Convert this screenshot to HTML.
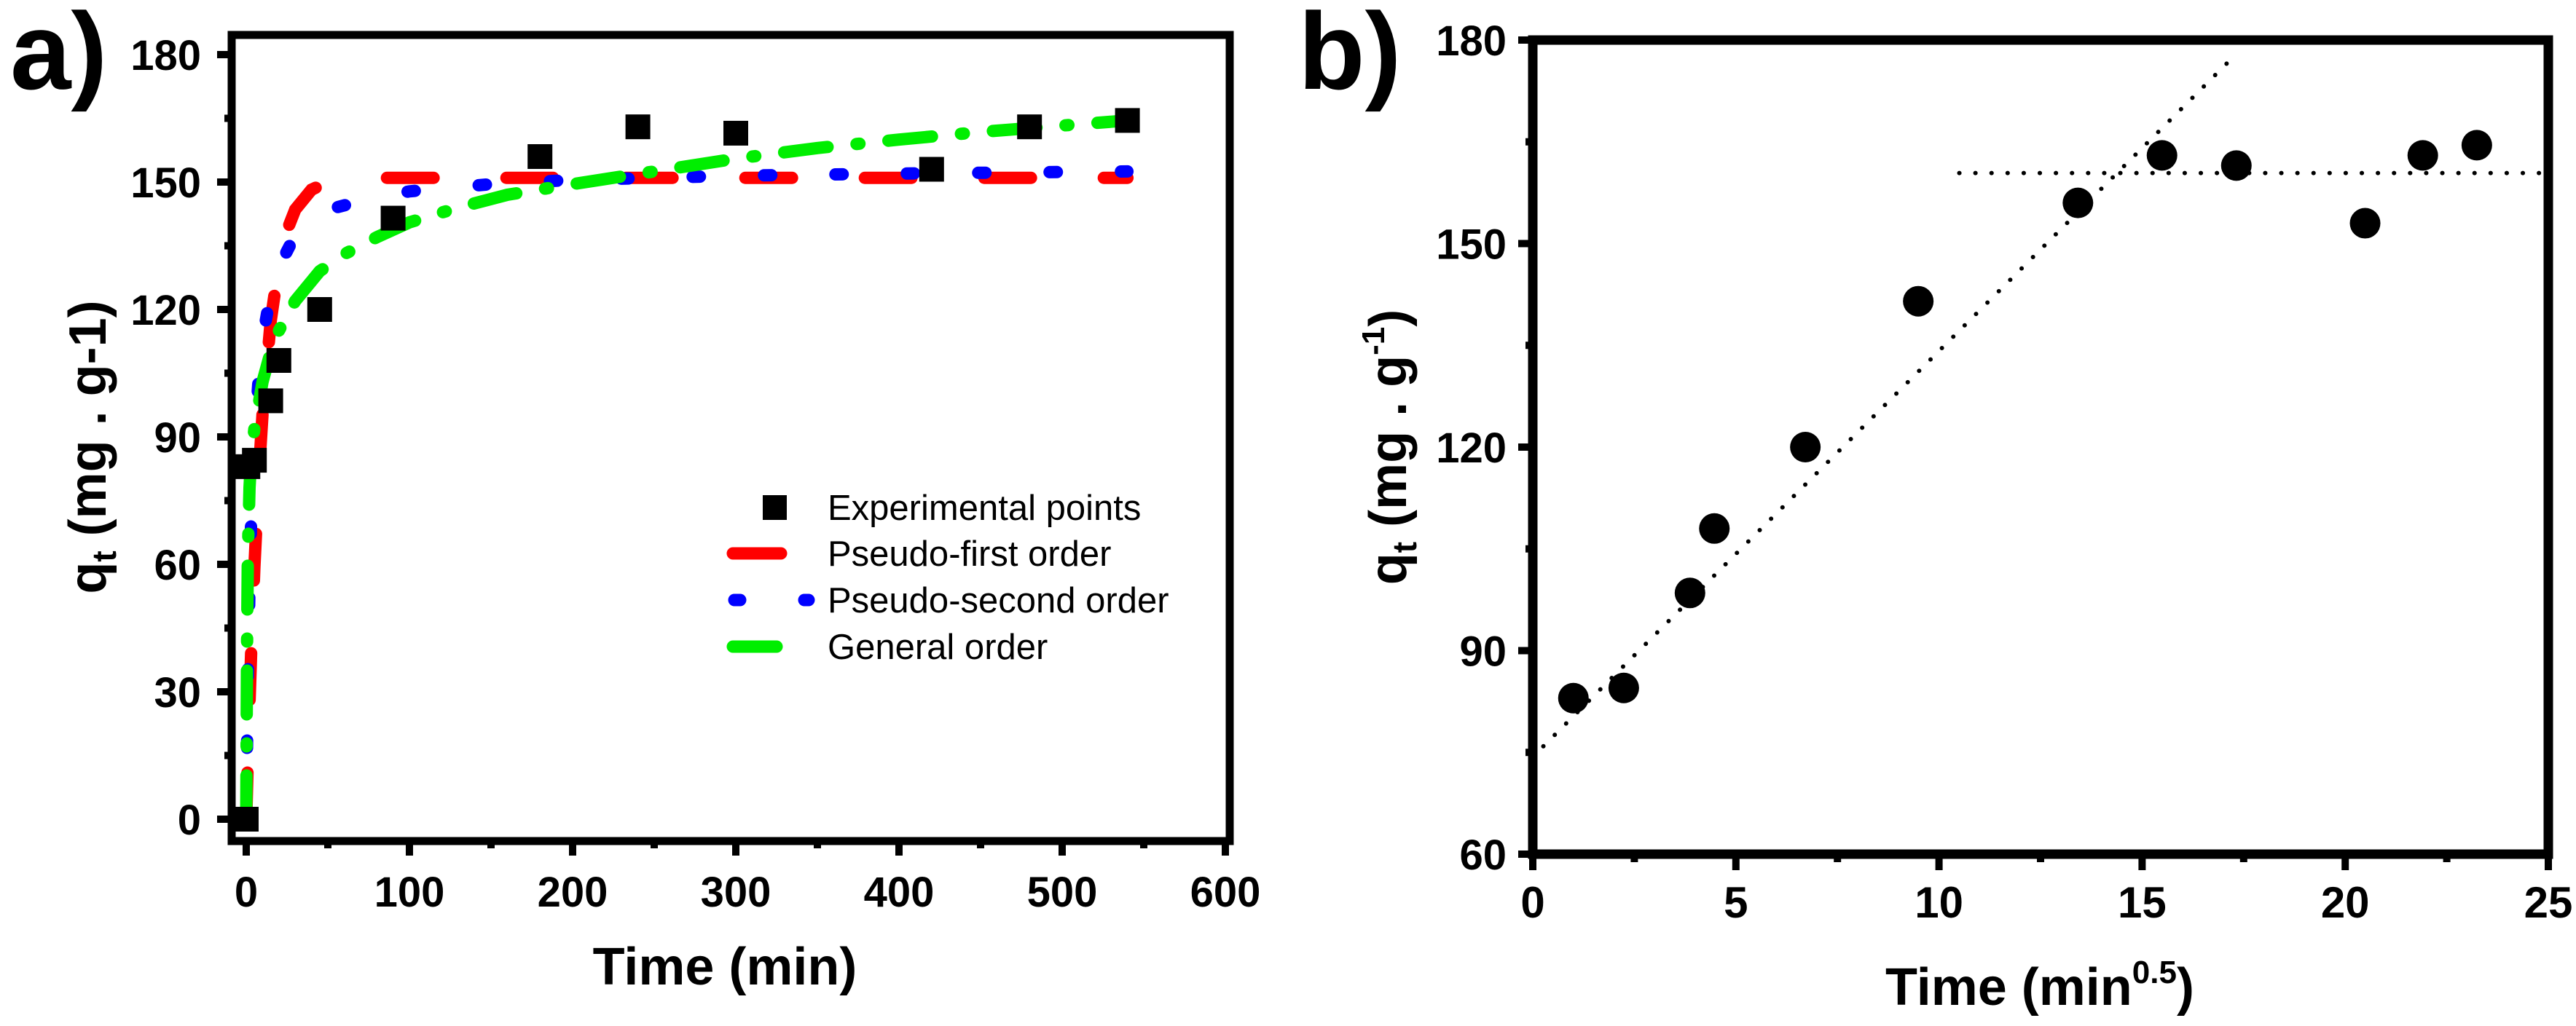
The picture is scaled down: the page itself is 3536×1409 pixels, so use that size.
<!DOCTYPE html>
<html><head><meta charset="utf-8"><style>
html,body{margin:0;padding:0;background:#fff}
svg{display:block}
text{font-family:"Liberation Sans",Arial,sans-serif;fill:#000}
</style></head><body>
<svg id="fig" width="3536" height="1409" viewBox="0 0 3536 1409" xmlns="http://www.w3.org/2000/svg">
<text x="14" y="122" font-size="150" font-weight="bold">a)</text>
<text x="1782" y="122" font-size="150" font-weight="bold">b)</text>
<g id="pa"></g>
<g id="pb"></g>
</svg>
<script>
// Panel a data
const expTime = [0, 1, 5, 15, 20, 45, 90, 180, 240, 300, 420, 480, 540];
const expQ = [0, 83, 84.5, 98.5, 108, 120, 141.5, 156, 163, 161.5, 153, 163, 164.5];
const pfoTime = [0, 1, 2, 3, 5, 8, 10, 15, 20, 25, 30, 40, 50, 70, 100, 200, 300, 400, 540];
const pfoQ = [0, 14.4, 27.4, 39, 59.4, 83, 95.5, 117.3, 130.6, 138.6, 143.5, 148.2, 150, 151, 151, 151, 151, 151, 151];
const psoTime = [0, 1, 2, 3, 5, 8, 10, 15, 20, 30, 50, 80, 100, 150, 200, 300, 400, 540];
const psoQ = [0, 34, 55, 70, 89, 106, 113, 124, 130, 137.5, 143.5, 146.5, 147.8, 149.5, 150.5, 151.5, 152, 152.5];
const genTime = [0, 0.5, 1, 2, 3, 5, 10, 15, 20, 30, 45, 60, 80, 100, 130, 160, 200, 250, 300, 350, 400, 450, 500, 540];
const genQ = [0, 40, 62, 78, 85, 92, 103, 110, 115, 122, 129, 133, 137, 140.5, 144, 147, 149.5, 152.5, 155.5, 158, 160, 161.8, 163.3, 164.5];
const aXTicks = [0, 100, 200, 300, 400, 500, 600];
const aYTicks = [0, 30, 60, 90, 120, 150, 180];
// Panel b data
const sqrtTime = [1, 2.24, 3.87, 4.47, 6.71, 9.49, 13.42, 15.49, 17.32, 20.49, 21.91, 23.24];
const sqrtQ = [83, 84.5, 98.5, 108, 120, 141.5, 156, 163, 161.5, 153, 163, 164.5];
const fitLineX = [0.26, 17.26];
const fitLineY = [75.9, 177.6];
const plateauX = [10.5, 24.8];
const plateauY = [160.4, 160.4];
const bXTicks = [0, 5, 10, 15, 20, 25];
const bYTicks = [60, 90, 120, 150, 180];

const NS = "http://www.w3.org/2000/svg";
function mk(parent, tag, attrs, txt) {
  const e = document.createElementNS(NS, tag);
  for (const k in attrs) e.setAttribute(k, attrs[k]);
  if (txt !== undefined) e.textContent = txt;
  parent.appendChild(e);
  return e;
}
function lin(d0, d1, p0, p1) { return v => p0 + (v - d0) * (p1 - p0) / (d1 - d0); }

// ---------- Panel A ----------
const pa = document.getElementById('pa');
const ax = lin(0, 600, 338, 1682);
const ay = lin(0, 180, 1125, 75);
const A = {l: 318, r: 1688, t: 48, b: 1155};
function polyPts(xs, ys, fx, fy) { return xs.map((v, i) => fx(v).toFixed(1) + ',' + fy(ys[i]).toFixed(1)).join(' '); }
let e;
e = mk(pa, 'polyline', {points: polyPts(pfoTime, pfoQ, ax, ay), fill: 'none', stroke: '#ff0000', 'stroke-width': 17, 'stroke-linecap': 'round', 'stroke-dasharray': '64 100'});


e = mk(pa, 'polyline', {points: polyPts(psoTime, psoQ, ax, ay), fill: 'none', stroke: '#0000ff', 'stroke-width': 17, 'stroke-linecap': 'round', 'stroke-dasharray': '10 88'});


e = mk(pa, 'polyline', {points: polyPts(genTime, genQ, ax, ay), fill: 'none', stroke: '#00ee00', 'stroke-width': 17, 'stroke-linecap': 'round', 'stroke-dasharray': '60 40 4 40'});


expTime.forEach((t, i) => {
  const r = mk(pa, 'rect', {x: ax(t) - 17, y: ay(expQ[i]) - 17, width: 34, height: 34, fill: '#000'});
  
  
});
e = mk(pa, 'rect', {x: A.l, y: A.t, width: A.r - A.l, height: A.b - A.t, fill: 'none', stroke: '#000', 'stroke-width': 11});


aYTicks.forEach((v, i) => {
  const y = ay(v);
  e = mk(pa, 'line', {x1: A.l - 20, x2: A.l, y1: y, y2: y, stroke: '#000', 'stroke-width': 10});
  
  
  if (i < aYTicks.length - 1) {
    const ym = ay(v + 15);
    e = mk(pa, 'line', {x1: A.l - 10, x2: A.l, y1: ym, y2: ym, stroke: '#000', 'stroke-width': 10});
    
    
  }
  e = mk(pa, 'text', {x: 276, y: y + 21, 'font-size': 58, 'font-weight': 'bold', 'text-anchor': 'end'}, String(v));
  
  
});
aXTicks.forEach((v, i) => {
  const x = ax(v);
  e = mk(pa, 'line', {x1: x, x2: x, y1: A.b, y2: A.b + 20, stroke: '#000', 'stroke-width': 10});
  
  
  if (i < aXTicks.length - 1) {
    const xm = ax(v + 50);
    e = mk(pa, 'line', {x1: xm, x2: xm, y1: A.b, y2: A.b + 10, stroke: '#000', 'stroke-width': 10});
    
    
  }
  e = mk(pa, 'text', {x: x, y: 1245, 'font-size': 58, 'font-weight': 'bold', 'text-anchor': 'middle'}, String(v));
  
  
});
e = mk(pa, 'text', {x: 995, y: 1352, 'font-size': 72, 'font-weight': 'bold', 'text-anchor': 'middle'}, 'Time (min)');


e = mk(pa, 'text', {transform: 'translate(145,614) rotate(-90)', 'font-size': 72, 'font-weight': 'bold', 'text-anchor': 'middle'});


mk(e, 'tspan', {}, 'q');
mk(e, 'tspan', {dy: 14, 'font-size': 46}, 't');
mk(e, 'tspan', {dy: -14}, ' (mg . g-1)');
// legend
const lg = mk(pa, 'g', {});


e = mk(lg, 'rect', {x: 1047, y: 680, width: 33, height: 34, fill: '#000'});


e = mk(lg, 'line', {x1: 1006, x2: 1072, y1: 760, y2: 760, stroke: '#ff0000', 'stroke-width': 17, 'stroke-linecap': 'round'});


e = mk(lg, 'line', {x1: 1008, x2: 1110, y1: 824, y2: 824, stroke: '#0000ff', 'stroke-width': 17, 'stroke-linecap': 'round', 'stroke-dasharray': '8 88'});


e = mk(lg, 'line', {x1: 1006, x2: 1066, y1: 888, y2: 888, stroke: '#00ee00', 'stroke-width': 17, 'stroke-linecap': 'round'});


['Experimental points', 'Pseudo-first order', 'Pseudo-second order', 'General order'].forEach((s, i) => {
  e = mk(lg, 'text', {x: 1136, y: [714, 777, 841, 905][i], 'font-size': 49}, s);
  
  
});

// ---------- Panel B ----------
const pb = document.getElementById('pb');
const bx = lin(0, 25, 2104, 3498);
const by = lin(60, 180, 1173, 55);
const B = {l: 2104, r: 3498, t: 55, b: 1173};
e = mk(pb, 'line', {x1: bx(fitLineX[0]), y1: by(fitLineY[0]), x2: bx(fitLineX[1]), y2: by(fitLineY[1]), stroke: '#000', 'stroke-width': 6, 'stroke-linecap': 'round', 'stroke-dasharray': '0.1 22'});


e = mk(pb, 'line', {x1: bx(plateauX[0]), y1: by(plateauY[0]), x2: bx(plateauX[1]), y2: by(plateauY[1]), stroke: '#000', 'stroke-width': 6, 'stroke-linecap': 'round', 'stroke-dasharray': '0.1 22'});


sqrtTime.forEach((t, i) => {
  const c = mk(pb, 'circle', {cx: bx(t), cy: by(sqrtQ[i]), r: 21, fill: '#000'});
  
  
});
e = mk(pb, 'rect', {x: B.l, y: B.t, width: B.r - B.l, height: B.b - B.t, fill: 'none', stroke: '#000', 'stroke-width': 13});


bYTicks.forEach((v, i) => {
  const y = by(v);
  e = mk(pb, 'line', {x1: B.l - 20, x2: B.l, y1: y, y2: y, stroke: '#000', 'stroke-width': 10});
  
  
  if (i < bYTicks.length - 1) {
    const ym = by(v + 15);
    e = mk(pb, 'line', {x1: B.l - 10, x2: B.l, y1: ym, y2: ym, stroke: '#000', 'stroke-width': 10});
    
    
  }
  e = mk(pb, 'text', {x: 2068, y: y + 21, 'font-size': 58, 'font-weight': 'bold', 'text-anchor': 'end'}, String(v));
  
  
});
bXTicks.forEach((v, i) => {
  const x = bx(v);
  e = mk(pb, 'line', {x1: x, x2: x, y1: B.b, y2: B.b + 22, stroke: '#000', 'stroke-width': 10});
  
  
  if (i < bXTicks.length - 1) {
    const xm = bx(v + 2.5);
    e = mk(pb, 'line', {x1: xm, x2: xm, y1: B.b, y2: B.b + 11, stroke: '#000', 'stroke-width': 10});
    
    
  }
  e = mk(pb, 'text', {x: x, y: 1260, 'font-size': 60, 'font-weight': 'bold', 'text-anchor': 'middle'}, String(v));
  
  
});
e = mk(pb, 'text', {x: 2800, y: 1380, 'font-size': 72, 'font-weight': 'bold', 'text-anchor': 'middle'});


mk(e, 'tspan', {}, 'Time (min');
mk(e, 'tspan', {dy: -30, 'font-size': 44}, '0.5');
mk(e, 'tspan', {dy: 30}, ')');
e = mk(pb, 'text', {transform: 'translate(1930,614) rotate(-90)', 'font-size': 72, 'font-weight': 'bold', 'text-anchor': 'middle'});


mk(e, 'tspan', {}, 'q');
mk(e, 'tspan', {dy: 14, 'font-size': 46}, 't');
mk(e, 'tspan', {dy: -14}, ' (mg . g');
mk(e, 'tspan', {dy: -30, 'font-size': 44}, '-1');
mk(e, 'tspan', {dy: 30}, ')');
</script>
</body></html>
